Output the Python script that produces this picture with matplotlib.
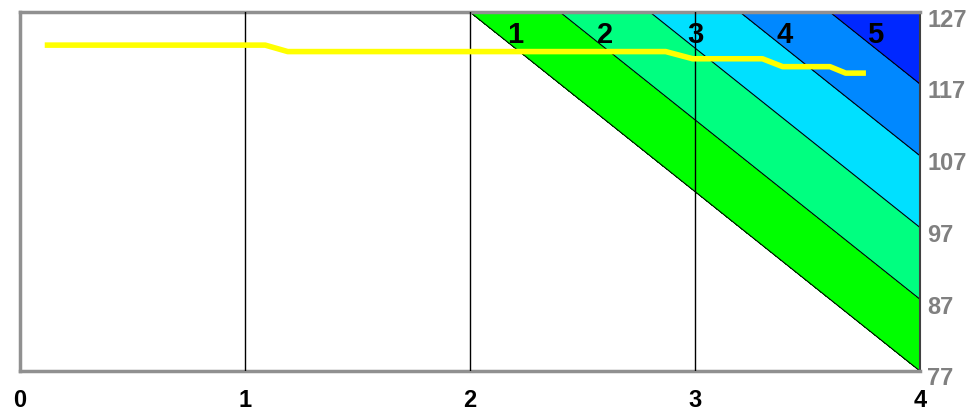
import numpy as np
import matplotlib.pyplot as plt

# field corners (x, y) -> value, contour levels
grid_x = [0, 4]
grid_y = [77, 127]
grid_z = [[77, 177],
          [127, 227]]
levels = [177, 187, 197, 207, 217, 227]
band_colors = ['#00ff00', '#00ff80', '#00e0ff', '#0088ff', '#0028ff']
band_labels = ['1', '2', '3', '4', '5']
label_x = [2.2, 2.6, 3.0, 3.4, 3.8]
label_y = 123.8

# yellow path
path_x = [0.11, 1.09, 1.19, 2.87, 2.99, 3.30, 3.39, 3.60, 3.67, 3.76]
path_y = [122.4, 122.4, 121.5, 121.5, 120.5, 120.5, 119.4, 119.4, 118.5, 118.5]

xticks = [0, 1, 2, 3, 4]
yticks = [77, 87, 97, 107, 117, 127]

fig = plt.figure(figsize=(9.75, 4.13), dpi=100)
ax = fig.add_axes([0.0205, 0.1017, 0.923, 0.869])

X, Y = np.meshgrid(grid_x, grid_y)
Z = np.array(grid_z)
ax.contourf(X, Y, Z, levels=levels, colors=band_colors)
ax.contour(X, Y, Z, levels=levels[:-1], colors='black', linewidths=0.8)

for xv in xticks[1:-1]:
    ax.axvline(xv, color='black', lw=1, zorder=3)

ax.plot(path_x, path_y, color='#ffff00', lw=4, zorder=4, solid_capstyle='butt')

for lab, lx in zip(band_labels, label_x):
    ax.text(lx, label_y, lab, ha='center', va='center', fontsize=21,
            fontweight='bold', family='Liberation Sans', zorder=5)

ax.set_xlim(0, 4)
ax.set_ylim(77, 127)
ax.set_xticks([])
ax.set_yticks([])
for xv in xticks:
    ax.text(xv, -0.05, str(xv), transform=ax.get_xaxis_transform(), ha='center',
            va='top', fontsize=17, fontweight='bold', family='Liberation Sans')
for yv in yticks:
    ax.text(1.008, yv + 0.5, str(yv), transform=ax.get_yaxis_transform(), ha='left',
            va='top', fontsize=17, fontweight='bold', color='#808080',
            family='Liberation Sans')

for s in ['left', 'top', 'bottom']:
    ax.spines[s].set_color('#909090')
    ax.spines[s].set_linewidth(2.5)
ax.spines['right'].set_color('#404040')
ax.spines['right'].set_linewidth(1.5)

fig.savefig('out.png', dpi=100)
